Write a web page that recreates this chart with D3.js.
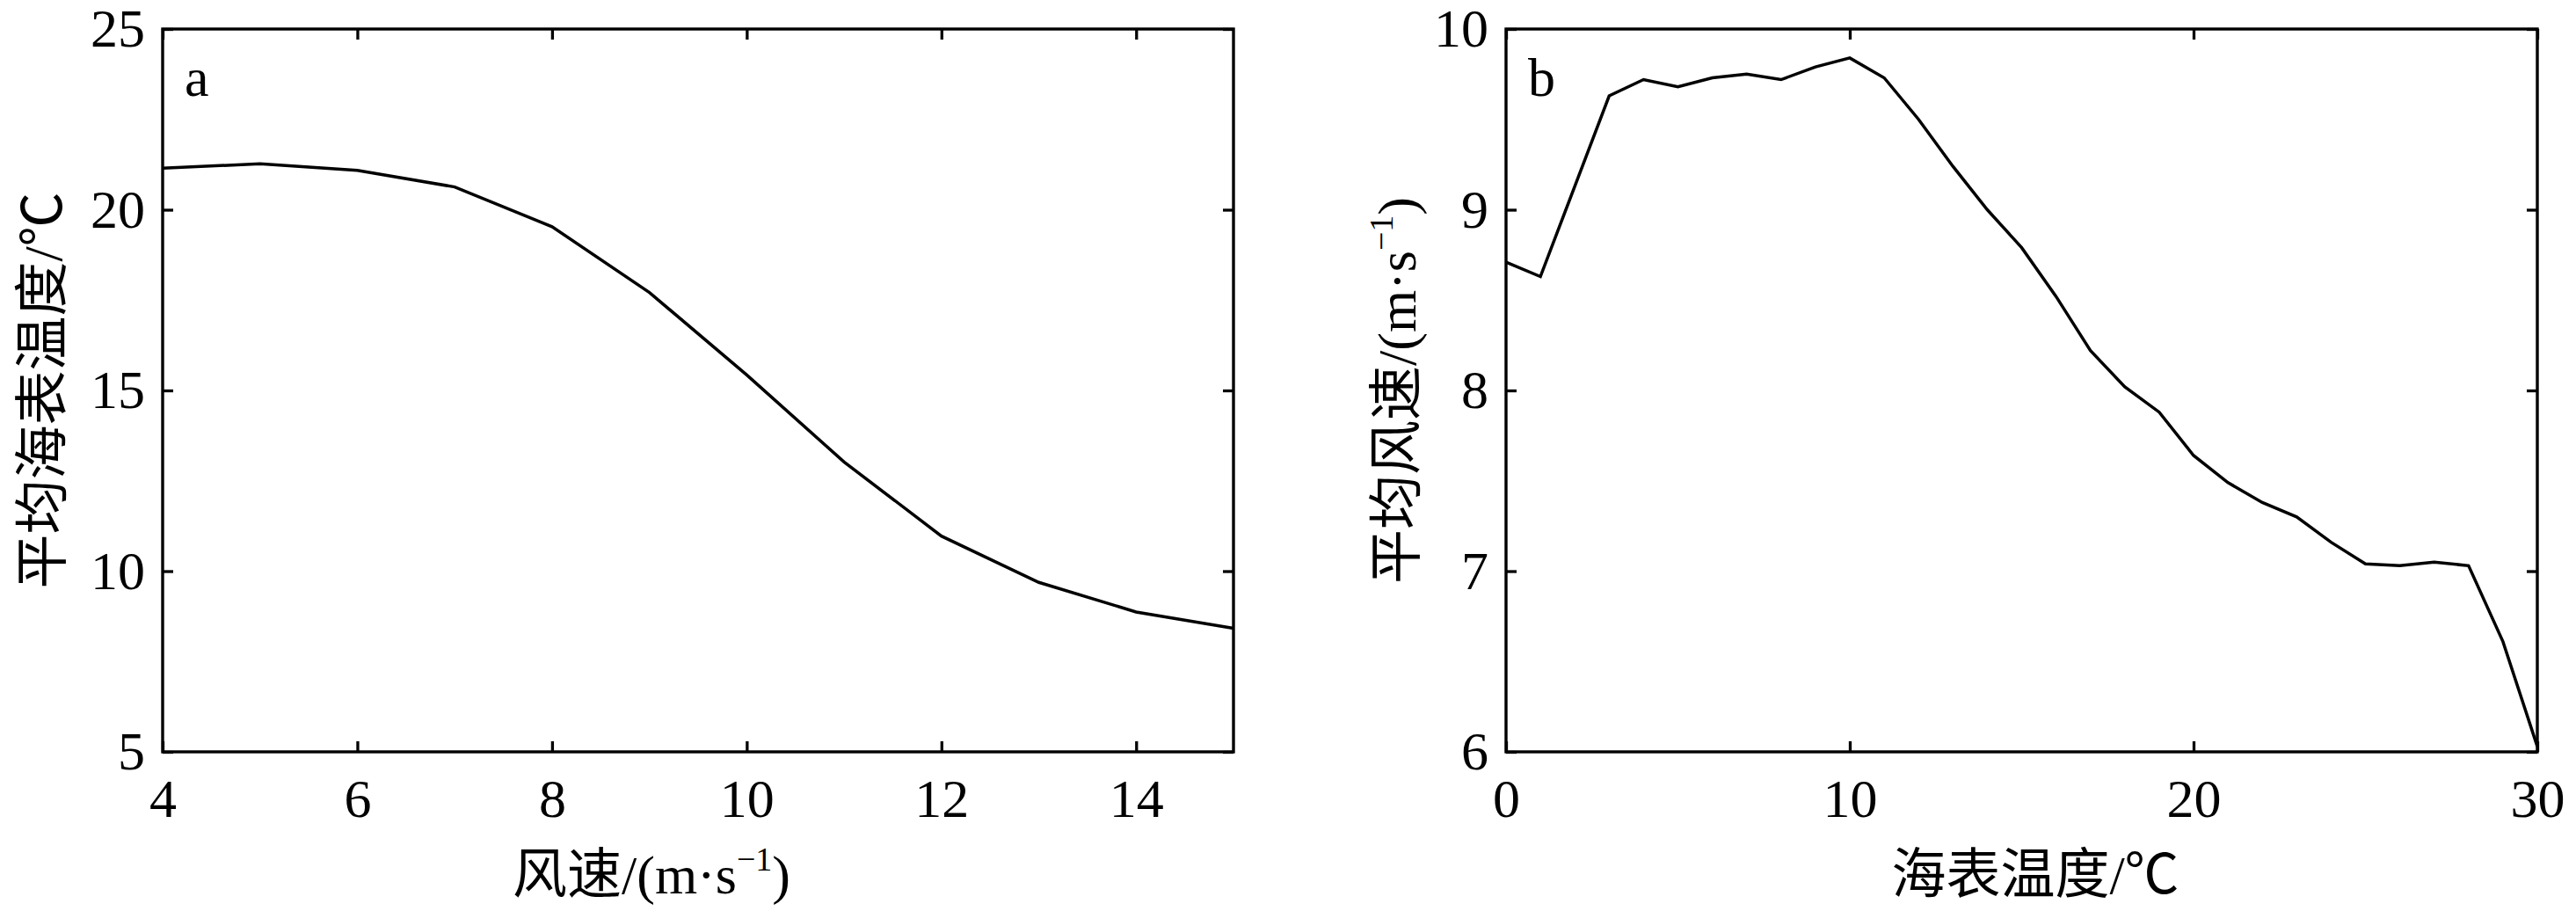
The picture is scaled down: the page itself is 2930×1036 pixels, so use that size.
<!DOCTYPE html>
<html>
<head>
<meta charset="utf-8">
<script src="https://cdn.jsdelivr.net/npm/d3@7"></script>
<style>
  body { margin: 0; background: #fff; }
  text { font-family: "Liberation Serif", "Noto Sans CJK SC", serif; fill: #000; }
</style>
</head>
<body>
<div id="chart"></div>
<script>
// panel a: mean SST by wind speed
var windA = [4, 5, 6, 7, 8, 9, 10, 11, 12, 13, 14, 15];
var sstA = [21.15, 21.27, 21.09, 20.63, 19.53, 17.71, 15.43, 13.02, 10.97, 9.69, 8.87, 8.42];
var ticksAx = [4, 6, 8, 10, 12, 14];
var ticksAy = [5, 10, 15, 20, 25];

// panel b: mean wind speed by SST
var sstB = [0, 1, 2, 3, 4, 5, 6, 7, 8, 9, 10, 11, 12, 13, 14, 15, 16, 17, 18, 19, 20,
            21, 22, 23, 24, 25, 26, 27, 28, 29, 30];
var windB = [8.71, 8.63, 9.13, 9.63, 9.72, 9.68, 9.73, 9.75, 9.72, 9.79, 9.84, 9.73, 9.50,
             9.24, 9.00, 8.79, 8.52, 8.22, 8.02, 7.88, 7.64, 7.49, 7.38, 7.30, 7.16, 7.04,
             7.03, 7.05, 7.03, 6.61, 6.03];
var ticksBx = [0, 10, 20, 30];
var ticksBy = [6, 7, 8, 9, 10];

var W = 2930, H = 1036;

var svg = d3.select("#chart").append("svg")
    .attr("width", W)
    .attr("height", H);

svg.append("rect").attr("width", W).attr("height", H).attr("fill", "#fff");

function panel(opt) {
    var x = d3.scaleLinear().domain(opt.xDomain).range([opt.left, opt.right]);
    var y = d3.scaleLinear().domain(opt.yDomain).range([opt.bottom, opt.top]);
    var g = svg.append("g");

    var tick = 12;
    var fmt = d3.format("d");

    // bottom + left with labels, top + right only ticks
    var bottom = g.append("g")
        .attr("transform", "translate(0," + opt.bottom + ")")
        .call(d3.axisBottom(x).tickValues(opt.xTicks).tickFormat(fmt)
            .tickSizeInner(-tick).tickSizeOuter(0).tickPadding(30));
    g.append("g")
        .attr("transform", "translate(" + opt.left + ",0)")
        .call(d3.axisLeft(y).tickValues(opt.yTicks).tickFormat(fmt)
            .tickSizeInner(-tick).tickSizeOuter(0).tickPadding(20));
    g.append("g")
        .attr("transform", "translate(0," + opt.top + ")")
        .call(d3.axisTop(x).tickValues(opt.xTicks).tickSizeInner(-tick).tickSizeOuter(0).tickFormat(""));
    g.append("g")
        .attr("transform", "translate(" + opt.right + ",0)")
        .call(d3.axisRight(y).tickValues(opt.yTicks).tickSizeInner(-tick).tickSizeOuter(0).tickFormat(""));

    g.selectAll(".domain").remove();
    g.selectAll(".tick line").attr("stroke", "#000").attr("stroke-width", 3.3);
    g.selectAll(".tick text")
        .attr("font-family", "Liberation Serif, serif")
        .attr("font-size", 62);
    bottom.selectAll(".tick text").attr("dy", "0.71em");

    var line = d3.line()
        .x(function(d, i) { return x(opt.xs[i]); })
        .y(function(d) { return y(d); });

    g.append("path")
        .datum(opt.ys)
        .attr("d", line)
        .attr("fill", "none")
        .attr("stroke", "#000")
        .attr("stroke-width", 3.5)
        .attr("stroke-linejoin", "miter");

    g.append("rect")
        .attr("x", opt.left).attr("y", opt.top)
        .attr("width", opt.right - opt.left)
        .attr("height", opt.bottom - opt.top)
        .attr("fill", "none")
        .attr("stroke", "#000")
        .attr("stroke-width", 3.4);

    g.append("text")
        .attr("x", opt.left + 25)
        .attr("y", opt.top + 76)
        .attr("font-size", 62)
        .text(opt.letter);

    // x title
    var xt = g.append("text")
        .attr("x", opt.xTitleX)
        .attr("y", 1016)
        .attr("text-anchor", "middle")
        .attr("font-size", 62);
    opt.xTitle(xt);

    // y title
    var yt = g.append("text")
        .attr("transform", "translate(" + opt.yTitleX + "," + ((opt.top + opt.bottom) / 2) + ") rotate(-90)")
        .attr("text-anchor", "middle")
        .attr("font-size", 62);
    opt.yTitle(yt);
}

function windUnit(t, prefix) {
    t.append("tspan").text(prefix + "/(m·s");
    t.append("tspan").attr("font-size", 38).attr("dy", -26).text("−1");
    t.append("tspan").attr("dy", 26).text(")");
}

panel({
    left: 185, right: 1403, top: 33, bottom: 855,
    xDomain: [4, 15], yDomain: [5, 25],
    xTicks: ticksAx, yTicks: ticksAy,
    xs: windA, ys: sstA,
    letter: "a",
    xTitleX: 741, yTitleX: 70,
    xTitle: function(t) { windUnit(t, "风速"); },
    yTitle: function(t) { t.text("平均海表温度/℃"); }
});

panel({
    left: 1713, right: 2886, top: 33, bottom: 855,
    xDomain: [0, 30], yDomain: [6, 10],
    xTicks: ticksBx, yTicks: ticksBy,
    xs: sstB, ys: windB,
    letter: "b",
    xTitleX: 2315, yTitleX: 1610,
    xTitle: function(t) { t.text("海表温度/℃"); },
    yTitle: function(t) { windUnit(t, "平均风速"); }
});
</script>
</body>
</html>
